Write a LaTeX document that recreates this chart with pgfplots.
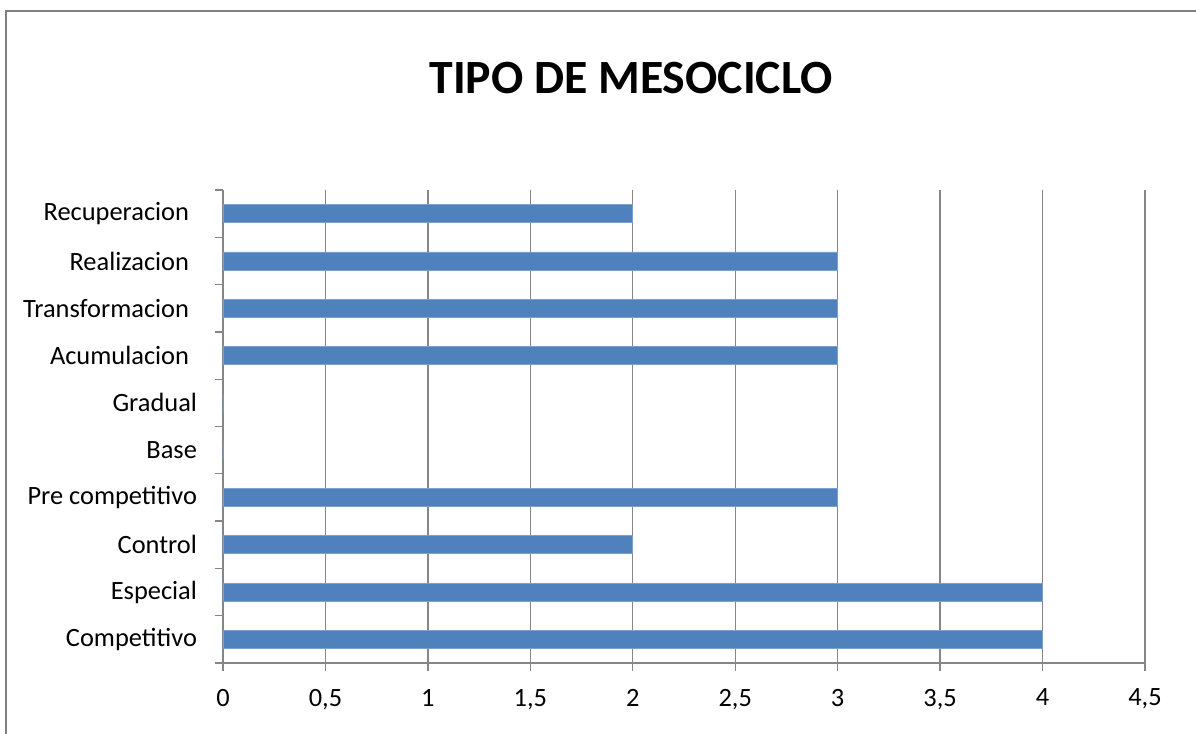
\documentclass[border=0pt]{standalone}
\usepackage{fontspec}
\setmainfont{Carlito}
\usepackage{pgfplots}
\pgfplotsset{compat=1.18}
\definecolor{barblue}{HTML}{4F81BD}
\definecolor{gridgray}{HTML}{868686}
\definecolor{framegray}{HTML}{808080}
\newcommand{\tsp}{\kern0.3em}
\begin{document}
\begin{tikzpicture}
\useasboundingbox (0pt,0pt) rectangle (897pt,550.5pt);
\draw[framegray,line width=1.2pt] (4.5pt,-4pt) -- (4.5pt,542.25pt) -- (904pt,542.25pt);
\node[font=\fontsize{35.8}{40}\selectfont\bfseries] at (473.25pt,492pt) {TIPO DE MESOCICLO};
\begin{axis}[
  at={(167.25pt,53.25pt)}, anchor=south west,
  scale only axis, width=691.5pt, height=354.75pt,
  xbar, bar width=0.38,
  xmin=0, xmax=4.5, ymin=-0.5, ymax=9.5,
  xtick={0,0.5,...,4.5},
  ytick={0,...,9},
  yticklabels={Competitivo,Especial,Control,Pre competitivo,Base,Gradual,Acumulacion\tsp,Transformacion\tsp,Realizacion\tsp,Recuperacion\tsp},
  minor ytick={-0.5,0.5,...,9.5},
  axis lines*=left,
  axis line style={draw=gridgray,line width=1pt,-},
  xmajorgrids, grid style={draw=gridgray,line width=1pt},
  tick align=outside,
  major tick length=6pt, minor tick length=6pt,
  x tick style={draw=gridgray,line width=1pt},
  y tick style={draw=none},
  minor y tick style={draw=gridgray,line width=1pt},
  tick label style={font=\fontsize{19.8}{22}\selectfont},
  yticklabel style={xshift=-10pt},
  xticklabel style={yshift=-10pt},
  /pgf/number format/.cd, use comma, assume math mode=true,
]
\addplot[fill=barblue, draw=barblue!75!white, line width=0.6pt] coordinates {
  (4,0) (4,1) (2,2) (3,3) (0,4) (0,5) (3,6) (3,7) (3,8) (2,9)
};
\end{axis}
\end{tikzpicture}
\end{document}
